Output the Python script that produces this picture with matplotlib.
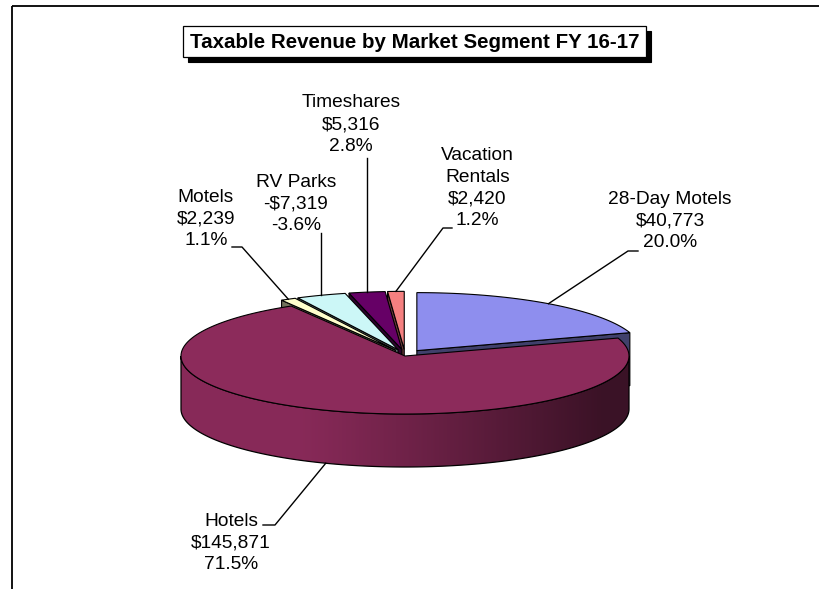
import numpy as np
import matplotlib.pyplot as plt
from matplotlib.patches import Polygon, Rectangle
from matplotlib.colors import to_rgb

# data (clockwise from 12 o'clock)
segments = ['28-Day Motels', 'Hotels', 'Motels', 'RV Parks', 'Timeshares', 'Vacation\nRentals']
revenue = [40773, 145871, 2239, -7319, 5316, 2420]
pct_labels = ['20.0%', '71.5%', '1.1%', '-3.6%', '2.8%', '1.2%']
colors = ['#8E8EEE', '#8C2B5B', '#FFFFCC', '#CCF7F7', '#660066', '#F58080']
explode = [0.09, 0.0, 0.09, 0.09, 0.09, 0.09]

title = 'Taxable Revenue by Market Segment FY 16-17'

# pie geometry in pixels
CX, CY = 405, 356
A, B = 224, 58        # ellipse semi axes of the top face
DEPTH = 53
K = 0.33              # vertical share of the explode offset

# label layout: centre of text block, and the leader start (knee) points
label_pos = [(670, 221), (231, 543), (206, 219), (296, 204), (351, 124.5), (477.5, 188)]
leader_start = [[(638, 251), (628, 251)],
                [(263, 525), (275, 525)],
                [(232, 247), (242, 247)],
                [(None, 233)],
                [(None, 158)],
                [(452, 228), (443, 228)]]

FONT = ['Liberation Sans', 'DejaVu Sans']


def money(v):
    return ('-$' if v < 0 else '$') + f'{abs(v):,}'


def shade(c, f):
    return tuple(np.clip(np.array(to_rgb(c)) * f, 0, 1))


fig = plt.figure(figsize=(8.2, 5.89), dpi=100)
ax = fig.add_axes([0, 0, 1, 1])

# chart area frame (only top and left edges show in the crop)
ax.plot([12, 820], [6, 6], color='black', lw=1.3, solid_capstyle='butt')
ax.plot([12, 12], [6, 589], color='black', lw=1.3, solid_capstyle='butt')

# title box with drop shadow
ax.add_patch(Rectangle((188, 31), 463, 31, fc='black', ec='black', lw=0.8))
ax.add_patch(Rectangle((183, 26), 463, 31, fc='white', ec='black', lw=0.9))
ax.text(414.5, 42, title, ha='center', va='center', fontsize=14.8,
        fontweight='bold', family=FONT)

sizes = np.abs(np.array(revenue, dtype=float))
fracs = sizes / sizes.sum()
starts = 90 - 360 * np.concatenate([[0], np.cumsum(fracs)[:-1]])
ends = starts - 360 * fracs
mids = (starts + ends) / 2


def pt(th, off, z=0.0):
    r = np.radians(th)
    return CX + off[0] + A * np.cos(r), CY + off[1] - B * np.sin(r) + z


offsets = []
for i in range(len(segments)):
    m = np.radians(mids[i])
    offsets.append((explode[i] * A * np.cos(m), -explode[i] * A * K * np.sin(m)))

z = 2
# back slices first
order = np.argsort(-np.sin(np.radians(mids)))
for i in order:
    off = offsets[i]
    apex = (CX + off[0], CY + off[1])

    # cut faces that look towards the viewer
    for ang, vis in ((starts[i], np.cos(np.radians(starts[i])) < 0),
                     (ends[i], np.cos(np.radians(ends[i])) > 0)):
        if vis:
            rx, ry = pt(ang, off)
            quad = [apex, (rx, ry), (rx, ry + DEPTH), (apex[0], apex[1] + DEPTH)]
            ax.add_patch(Polygon(quad, closed=True, fc=shade(colors[i], 0.45),
                                 ec='black', lw=0.8, zorder=z))
            z += 1

    # outer wall on the front half, shaded darker to the right
    for k in (-360, 0, 360):
        lo = max(ends[i], -180 + k)
        hi = min(starts[i], 0 + k)
        if hi <= lo:
            continue
        th = np.linspace(lo, hi, 300)
        xs, ys = pt(th, off)
        outline = list(zip(xs, ys)) + list(zip(xs[::-1], ys[::-1] + DEPTH))
        wall = Polygon(outline, closed=True, fc='none', ec='black', lw=0.9, zorder=z + 1)
        ax.add_patch(wall)
        gx = np.linspace(xs.min(), xs.max(), 400)
        t = np.clip((gx - (CX - 0.47 * A)) / (1.35 * A), 0, 1)
        f = 0.97 - 0.55 * t ** 1.1
        grad = np.array([shade(colors[i], v) for v in f])[None, :, :]
        img = ax.imshow(grad, extent=[xs.min(), xs.max(), ys.max() + DEPTH, ys.min()],
                        aspect='auto', interpolation='bilinear', zorder=z)
        img.set_clip_path(wall)
        z += 2

    # top face
    th = np.linspace(starts[i], ends[i], max(int(abs(starts[i] - ends[i]) * 2), 10))
    xs, ys = pt(th, off)
    ax.add_patch(Polygon([apex] + list(zip(xs, ys)), closed=True,
                         fc=colors[i], ec='black', lw=0.8, zorder=z))
    z += 1

# labels with leader lines
for i in range(len(segments)):
    txt = f'{segments[i]}\n{money(revenue[i])}\n{pct_labels[i]}'
    ax.text(label_pos[i][0], label_pos[i][1], txt, ha='center', va='center',
            fontsize=13.8, family=FONT, color='black', linespacing=1.36, zorder=z)

    rx, ry = pt(mids[i], offsets[i])
    if np.sin(np.radians(mids[i])) < 0:
        ry += DEPTH
    path = [(rx if p[0] is None else p[0], p[1]) for p in leader_start[i]]
    path.append((rx, ry))
    ax.plot([p[0] for p in path], [p[1] for p in path], color='black', lw=1.0, zorder=z)

ax.set_xlim(0, 820)
ax.set_ylim(589, 0)
ax.axis('off')

fig.savefig('out.png', dpi=100)
